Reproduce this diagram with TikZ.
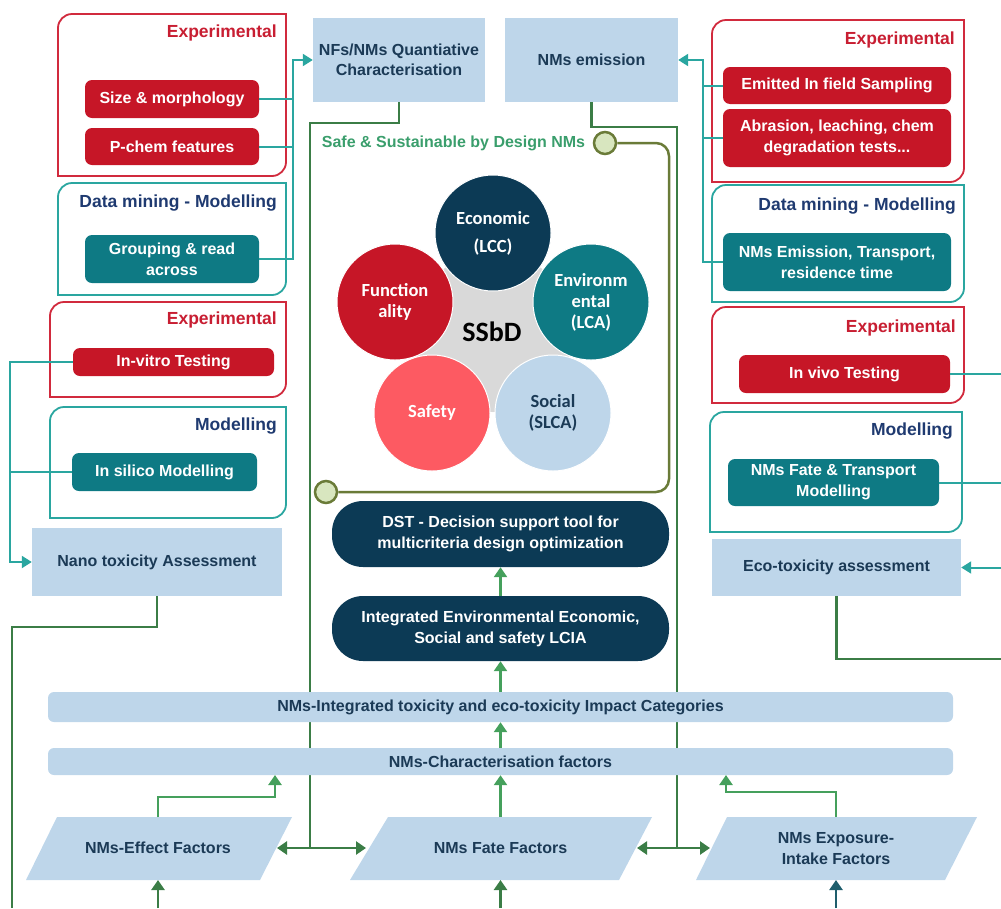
\documentclass[tikz,border=0pt]{standalone}
\usepackage{fontspec}
\setmainfont{Liberation Sans}
\newfontfamily\calfont{Carlito}
\usetikzlibrary{arrows.meta,calc}

\definecolor{lblue}{HTML}{BED6EA}
\definecolor{boxtxt}{HTML}{1B3A56}
\definecolor{redfill}{HTML}{C61627}
\definecolor{redline}{HTML}{D12A3D}
\definecolor{redtxt}{HTML}{C81E32}
\definecolor{tealfill}{HTML}{0E7A84}
\definecolor{tealline}{HTML}{2AA6A0}
\definecolor{navytitle}{HTML}{1F3A70}
\definecolor{navyfill}{HTML}{0C3A55}
\definecolor{gdark}{HTML}{3B7D46}
\definecolor{gbright}{HTML}{45A05C}
\definecolor{olive}{HTML}{6A7B38}
\definecolor{olivefill}{HTML}{D8E6BF}
\definecolor{ssbdgreen}{HTML}{3A9E6C}
\definecolor{coral}{HTML}{FD5A62}
\definecolor{blob}{HTML}{D9D9D9}
\definecolor{expoarrow}{HTML}{1F5E6C}

\tikzset{
  lbox/.style={fill=lblue, text=boxtxt, font=\bfseries\fontsize{16}{20}\selectfont, align=center, inner sep=0pt},
  rbox/.style={fill=redfill, text=white, rounded corners=7, font=\bfseries\fontsize{16}{21}\selectfont, align=center, inner sep=0pt},
  tbox/.style={rbox, fill=tealfill},
  pill/.style={fill=navyfill, text=white, rounded corners=31, font=\bfseries\fontsize{16}{21}\selectfont, align=center, inner sep=0pt},
  band/.style={fill=lblue, rounded corners=6, text=boxtxt, font=\bfseries\fontsize{16}{20}\selectfont, inner sep=0pt},
  ptext/.style={text=boxtxt, font=\bfseries\fontsize{16}{21}\selectfont, align=center, inner sep=0pt},
  redtitle/.style={text=redtxt, font=\bfseries\fontsize{17.5}{20}\selectfont, anchor=base east, inner sep=0pt},
  navtitle/.style={text=navytitle, font=\bfseries\fontsize{17.5}{20}\selectfont, anchor=base east, inner sep=0pt},
  redframe/.style={draw=redline, line width=1.8},
  tealframe/.style={draw=tealline, line width=1.8},
  tline/.style={draw=tealline, line width=2},
  tarrow/.style={tline, -{Triangle[width=12pt,length=10pt]}},
  gline/.style={draw=gdark, line width=2.5},
  gdouble/.style={gline, {Triangle[width=13pt,length=10pt]}-{Triangle[width=13pt,length=10pt]}},
  garrow/.style={draw=gbright, line width=2.5, -{Triangle[width=13pt,length=10pt]}},
  darrow/.style={draw=gdark, line width=2.5, -{Triangle[width=13pt,length=10pt]}},
  circ/.style={circle, minimum size=116, inner sep=0pt, draw=white, line width=1, align=center, text=white, font=\calfont\bfseries\fontsize{18.5}{21}\selectfont},
  knob/.style={circle, minimum size=22, inner sep=0pt, draw=olive, fill=olivefill, line width=2.5},
}

% group frame with rounded top-left and bottom-right corners
\newcommand\grpframe[5]{%
  \draw[#1] (#2,#5) -- (#2,#3+14) .. controls (#2,#3+6.3) and (#2+6.3,#3) .. (#2+14,#3)
    -- (#4,#3) -- (#4,#5-14) .. controls (#4,#5-6.3) and (#4-6.3,#5) .. (#4-14,#5) -- cycle;}

\begin{document}
\begin{tikzpicture}[x=1pt,y=-1pt]
\useasboundingbox (0,0) rectangle (1001,908);

% ---------- free ends and junctions ----------
\coordinate (edgeR) at (1001,0);
\coordinate (tl) at (293,60);
\coordinate (tr) at (703,60);
\coordinate (tv) at (10,362);
\coordinate (jl) at (310,848);
\coordinate (jr) at (677,848);
\coordinate (nanoEnd) at (12,908);
\coordinate (ecoEnd) at (1001,659);
\coordinate (effE) at (277,848);
\coordinate (fateW) at (366,848);
\coordinate (fateE) at (637,848);
\coordinate (expoW) at (710,848);
\coordinate (effTop) at (158,817);
\coordinate (effUp) at (275,775);
\coordinate (fateTop) at (500.5,817);
\coordinate (expoTop) at (836,817);
\coordinate (expoUp) at (726,775);
\coordinate (effBot) at (158,880);
\coordinate (effIn) at (158,908);
\coordinate (fateBot) at (500.5,880);
\coordinate (fateIn) at (500.5,908);
\coordinate (expoBot) at (836,880);
\coordinate (expoIn) at (836,908);

% ---------- method groups ----------
\grpframe{redframe}{58}{14}{286}{176}
\grpframe{tealframe}{58}{183}{286}{295}
\grpframe{redframe}{50}{302}{286}{397}
\grpframe{tealframe}{50}{407}{286}{518}
\grpframe{redframe}{712}{20}{964}{182}
\grpframe{tealframe}{712}{185}{964}{302}
\grpframe{redframe}{712}{307}{964}{403}
\grpframe{tealframe}{710}{412}{962}{532}

\node[redtitle] (t1) at (277,37) {Experimental};
\node[navtitle] (t2) at (277,207) {Data mining - Modelling};
\node[redtitle] (t3) at (277,324) {Experimental};
\node[navtitle] (t4) at (277,430) {Modelling};
\node[redtitle] (t5) at (955,44) {Experimental};
\node[navtitle] (t6) at (956,210) {Data mining - Modelling};
\node[redtitle] (t7) at (956,332) {Experimental};
\node[navtitle] (t8) at (953,435) {Modelling};

% ---------- inner method boxes ----------
\node[rbox, minimum width=174, minimum height=38] (size) at (172,99) {Size \& morphology};
\node[rbox, minimum width=174, minimum height=37] (pchem) at (172,146.5) {P-chem features};
\node[tbox, minimum width=174, minimum height=48] (grouping) at (172,259) {Grouping \& read\\across};
\node[rbox, minimum width=228, minimum height=37] (emitted) at (837,85.5) {Emitted In field Sampling};
\node[rbox, minimum width=228, minimum height=58] (abrasion) at (837,138) {Abrasion, leaching, chem\\degradation tests...};
\node[tbox, minimum width=228, minimum height=58] (emtrans) at (837,262) {NMs Emission, Transport,\\residence time};
\node[rbox, minimum width=201, minimum height=28] (invitro) at (173.5,362) {In-vitro Testing};
\node[tbox, minimum width=185, minimum height=38] (insilico) at (164.5,472) {In silico Modelling};
\node[rbox, minimum width=211, minimum height=38] (invivo) at (844.5,374) {In vivo Testing};
\node[tbox, minimum width=211, minimum height=47] (fatemod) at (833.5,482.5) {NMs Fate \& Transport\\Modelling};

% ---------- assessment boxes ----------
\node[lbox, minimum width=172, minimum height=84] (nfs) at (399,60) {NFs/NMs Quantiative\\Characterisation};
\node[lbox, minimum width=173, minimum height=84] (emis) at (591.5,60) {NMs emission};
\node[lbox, minimum width=250, minimum height=68] (nano) at (157,562) {Nano toxicity Assessment};
\node[lbox, minimum width=249, minimum height=57] (eco) at (836.5,567.5) {Eco-toxicity assessment};

% ---------- teal connectors ----------
\draw[tarrow] (grouping.east) -| (tl) -- (nfs.west);
\draw[tline] (size.east) -- (size.east -| tl);
\draw[tline] (pchem.east) -- (pchem.east -| tl);
\draw[tarrow] (emtrans.west) -| (tr) -- (emis.east);
\draw[tline] (emitted.west) -- (emitted.west -| tr);
\draw[tline] (abrasion.west) -- (abrasion.west -| tr);
\draw[tarrow] (invitro.west) -| (nano.west -| tv) -- (nano.west);
\draw[tline] (insilico.west) -- (insilico.west -| tv);
\draw[tline] (invivo.east) -- (invivo.east -| edgeR);
\draw[tline] (fatemod.east) -- (fatemod.east -| edgeR);
\draw[tarrow] (eco.east -| edgeR) -- (eco.east);

% ---------- green feed lines ----------
\draw[gline] (nfs.south) -- ++(0,21) -| (jl);
\draw[gline] (emis.south) -- ++(0,25) -| (jr);
\draw[gline] (nano.south) -- ++(0,31) -| (nanoEnd);
\draw[gline] (eco.south) |- (ecoEnd);

% ---------- SSbD core ----------
\node[text=ssbdgreen, font=\bfseries\fontsize{16}{20}\selectfont, inner sep=0pt] (sslabel) at (453.5,143) {Safe \& Sustainable by Design NMs};
\node[knob] (k1) at (605,143) {};
\node[knob] (k2) at (326,492) {};
\draw[olive, line width=2.5, rounded corners=13] (k1.east) -| (669,492) -- (k2.east);

\fill[blob] (493,332) circle[radius=80];
\node[circ, fill=navyfill] (econ) at (493,233) {Economic\\[7pt](LCC)};
\node[circ, fill=redfill] (func) at (395,302) {Function\\ality};
\node[circ, fill=tealfill] (env) at (591,302) {Environm\\ental\\(LCA)};
\node[circ, fill=coral] (safe) at (432,413) {Safety};
\node[circ, fill=lblue, text=boxtxt] (soc) at (553,413) {Social\\(SLCA)};
\node[font=\calfont\bfseries\fontsize{28}{30}\selectfont, text=black, inner sep=0pt] (ssbd) at (492,332) {SSbD};

\node[pill, minimum width=337, minimum height=66] (dst) at (500.5,534) {DST - Decision support tool for\\multicriteria design optimization};
\node[pill, minimum width=337, minimum height=65] (lcia) at (500.5,628.5) {Integrated Environmental Economic,\\Social and safety LCIA};

% ---------- impact bands ----------
\node[band, minimum width=905, minimum height=30] (band1) at (500.5,707) {NMs-Integrated toxicity and eco-toxicity Impact Categories};
\node[band, minimum width=905, minimum height=27] (band2) at (500.5,761.5) {NMs-Characterisation factors};

% ---------- factor parallelograms ----------
\fill[lblue] (57,817) -- (292,817) -- (260,880) -- (26,880) -- cycle;
\fill[lblue] (388,817) -- (652,817) -- (619,880) -- (350,880) -- cycle;
\fill[lblue] (727,817) -- (977,817) -- (945,880) -- (696,880) -- cycle;
\node[ptext] (eff) at (158,848) {NMs-Effect Factors};
\node[ptext] (fate) at (500.5,848) {NMs Fate Factors};
\node[ptext] (expo) at (836,849) {NMs Exposure-\\Intake Factors};

% ---------- upward flow ----------
\draw[garrow] (lcia.north) -- (dst.south);
\draw[garrow] (band1.north) -- (band1.north |- lcia.south);
\draw[garrow] (band2.north) -- (band2.north |- band1.south);
\draw[garrow] (fateTop) -- (fateTop |- band2.south);
\draw[garrow] (effTop) -- ++(0,-20) -| (effUp);
\draw[garrow] (expoTop) -- ++(0,-25) -| (expoUp);
\draw[gdouble] (effE) -- (fateW);
\draw[gdouble] (fateE) -- (expoW);
\draw[darrow] (effIn) -- (effBot);
\draw[darrow] (fateIn) -- (fateBot);
\draw[darrow, draw=expoarrow] (expoIn) -- (expoBot);
\end{tikzpicture}
\end{document}
